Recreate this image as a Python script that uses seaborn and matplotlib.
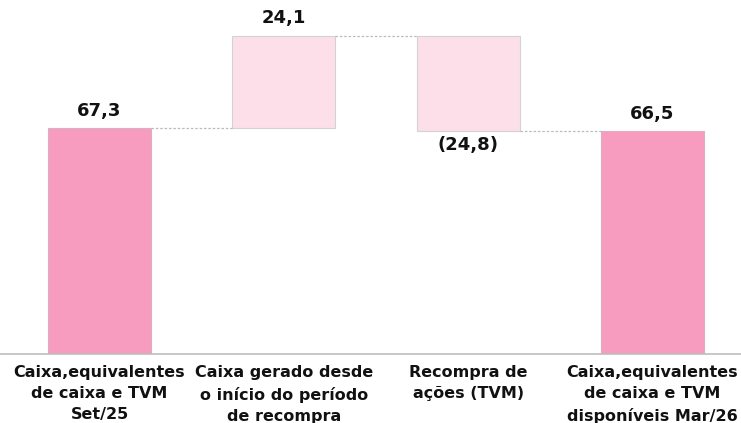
import matplotlib
matplotlib.use("Agg")
import matplotlib.pyplot as plt
import seaborn as sns
import pandas as pd

categories = [
    "Caixa,equivalentes\nde caixa e TVM\nSet/25",
    "Caixa gerado desde\no início do período\nde recompra",
    "Recompra de\nações (TVM)",
    "Caixa,equivalentes\nde caixa e TVM\ndisponíveis Mar/26",
]
start_value = 67.3
generated = 24.1
buyback = -24.8
end_value = 66.5
value_labels = ["67,3", "24,1", "(24,8)", "66,5"]

bottoms = [0, start_value, start_value + generated + buyback, 0]
heights = [start_value, generated, -buyback, end_value]
tops = [b + h for b, h in zip(bottoms, heights)]

df = pd.DataFrame({"cat": categories, "height": heights, "bottom": bottoms})

sns.set_theme(style="white")
plt.rcParams["font.family"] = ["DejaVu Sans"]

dpi = 100
fig = plt.figure(figsize=(7.41, 4.23), dpi=dpi)
ax = fig.add_axes([0, 69 / 423, 1, 354 / 423])

dark = "#F79BBF"
light = "#FDDFE9"
colors = [dark, light, light, dark]
edges = ["#D8B0C0", "#D3D3D3", "#D3D3D3", "#D8B0C0"]

sns.barplot(data=df, x="cat", y="height", color=dark,
            bottom=df["bottom"].values, width=0.56, ax=ax,
            linewidth=0.8, saturation=1, errorbar=None)
for p, fc, ec in zip(ax.patches, colors, edges):
    p.set_facecolor(fc)
    p.set_edgecolor(ec)

ax.set_ylim(8.1, 100.8)
ax.set_xlim(-0.54, 3.48)
ax.set_xlabel("")
ax.set_ylabel("")
ax.set_yticks([])
for s in ["top", "right", "left"]:
    ax.spines[s].set_visible(False)
ax.spines["bottom"].set_color("#BDBDBD")
ax.spines["bottom"].set_linewidth(1.2)
ax.tick_params(axis="x", length=0, pad=8)
ax.set_xticks(range(4))
ax.set_xticklabels(categories, fontsize=11.5, fontweight="bold", color="#111111",
                   linespacing=1.5)

hw = 0.28
conn = [(0, 1, tops[0]), (1, 2, tops[1]), (2, 3, bottoms[2])]
for a, b, y in conn:
    ax.plot([a + hw, b - hw], [y, y], color="#BBBBBB", lw=0.9, ls=(0, (2, 1.5)))

for i, lab in enumerate(value_labels):
    if i == 2:
        ax.text(i, bottoms[i] - 1.5, lab, ha="center", va="top", fontsize=13,
                fontweight="bold", color="#111111")
    else:
        ax.text(i, tops[i] + 2.2, lab, ha="center", va="bottom", fontsize=13,
                fontweight="bold", color="#111111")

fig.savefig("out.png", dpi=dpi)
